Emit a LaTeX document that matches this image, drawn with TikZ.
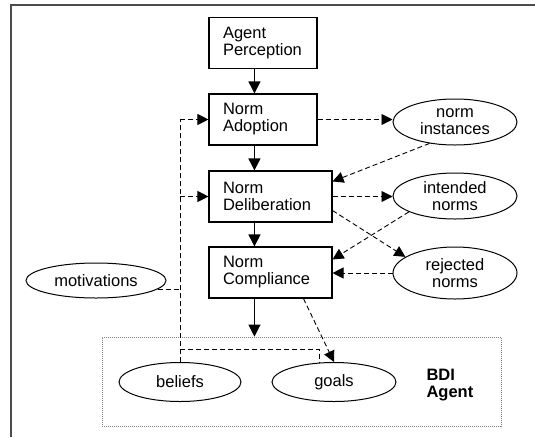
\documentclass[tikz,border=0pt]{standalone}
\usepackage{fontspec}
\setmainfont{Liberation Sans}
\usetikzlibrary{arrows.meta,shapes.geometric,calc}
\begin{document}
\begin{tikzpicture}[x=1pt,y=-1pt,
  every node/.style={font=\fontsize{16.5}{17}\selectfont},
  procbox/.style={draw, line width=1.1pt, align=left, inner xsep=14pt, inner ysep=0pt, minimum height=51pt},
  oval/.style={draw, ellipse, line width=1pt, align=center, inner sep=0pt},
  solidarr/.style={line width=1.1pt, -{Triangle[length=12pt,width=12pt]}},
  dasharr/.style={line width=0.9pt, dash pattern=on 5pt off 3pt, -{Triangle[length=11pt,width=11pt]}},
  dashline/.style={line width=0.9pt, dash pattern=on 5pt off 3pt},
  dotbox/.style={draw=gray, line width=0.8pt, dash pattern=on 1pt off 1pt}]
\useasboundingbox (0,0) rectangle (535,437);
% outer frame
\draw[line width=2pt, gray!60!black] (535,5) -- (11,5) -- (11,437);
% BDI agent box
\node[dotbox, minimum width=399pt, minimum height=89pt] (bdi) at (301.5,381.5) {};
\node[anchor=west, align=left, font=\fontsize{16.5}{17}\selectfont\bfseries] (bdit) at (423,385) {BDI\\Agent};
% process boxes
\node[procbox, text width=80pt] (perc) at (263,43) {Agent\\Perception};
\node[procbox, text width=80pt] (adopt) at (263,119.5) {Norm\\Adoption};
\node[procbox, text width=95pt] (delib) at (270.5,196.5) {Norm\\Deliberation};
\node[procbox, text width=95pt] (comp) at (270.5,272.5) {Norm\\Compliance};
% ellipses
\node[oval, minimum width=124pt, minimum height=46pt] (ni) at (455,122) {norm\\instances};
\node[oval, minimum width=124pt, minimum height=46pt] (int) at (455,196) {intended\\norms};
\node[oval, minimum width=124pt, minimum height=52pt] (rej) at (455,273) {rejected\\norms};
\node[oval, minimum width=140pt, minimum height=35pt] (mot) at (96,280.5) {motivations};
\node[oval, minimum width=122pt, minimum height=39pt] (bel) at (180,382) {beliefs};
\node[oval, minimum width=124pt, minimum height=39pt] (goals) at (334,382) {goals};
% solid flow
\coordinate (ps) at ($(perc.south west)+(46,0)$);
\coordinate (as) at ($(adopt.south west)+(46,0)$);
\coordinate (ds) at ($(delib.south west)+(46,0)$);
\coordinate (cs) at ($(comp.south west)+(46,0)$);
\draw[solidarr] (ps) -- (ps |- adopt.north);
\draw[solidarr] (as) -- (as |- delib.north);
\draw[solidarr] (ds) -- (ds |- comp.north);
\draw[solidarr] (cs) -- (cs |- bdi.north);
% left dashed system
\coordinate (vtop) at (bel.north |- adopt.west);
\draw[dashline] (bel.north) -- (vtop);
\draw[dasharr] (vtop) -- (adopt.west);
\draw[dasharr] (bel.north |- delib.west) -- (delib.west);
\coordinate (ms) at (mot.-8);
\draw[dashline] (ms) -- (ms -| bel.north);
\coordinate (hb) at ($(bel.north)+(0,-13)$);
\coordinate (gt) at (goals.127);
\draw[dashline] (hb) -- (hb -| gt) -- (gt);
% compliance to goals
\draw[dasharr] ($(comp.south west)+(95,0)$) -- (goals.north);
% right side
\draw[dasharr] (adopt.east) -- (ni.west |- adopt.east);
\draw[dasharr] (ni.220) -- ($(delib.north east)+(0,11)$);
\draw[dasharr] (delib.east) -- (int.west |- delib.east);
\draw[dasharr] (int.199) -- ($(comp.north east)+(0,13)$);
\draw[dasharr] ($(delib.south east)+(0,-12)$) -- (rej.162);
\draw[dasharr] (rej.west) -- (rej.west -| comp.east);
\end{tikzpicture}
\end{document}
